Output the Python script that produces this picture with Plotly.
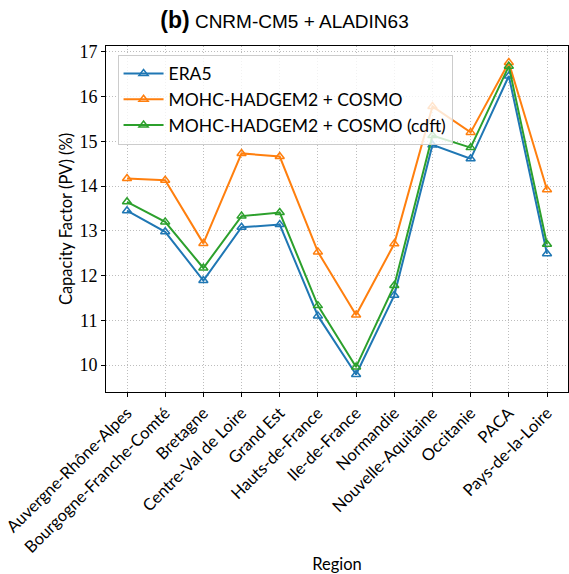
import plotly.graph_objects as go

regions = ["Auvergne-Rhône-Alpes", "Bourgogne-Franche-Comté", "Bretagne",
           "Centre-Val de Loire", "Grand Est", "Hauts-de-France", "Ile-de-France",
           "Normandie", "Nouvelle-Aquitaine", "Occitanie", "PACA", "Pays-de-la-Loire"]

era5 = [13.45, 12.98, 11.89, 13.08, 13.14, 11.10, 9.79, 11.56, 14.92, 14.61, 16.46, 12.49]
hadgem_cosmo = [14.17, 14.13, 12.72, 14.73, 14.66, 12.53, 11.12, 12.71, 15.78, 15.20, 16.76, 13.92]
hadgem_cosmo_cdft = [13.65, 13.20, 12.17, 13.33, 13.41, 11.33, 9.96, 11.78, 15.13, 14.86, 16.68, 12.70]

series = [
    ("ERA5", era5, "#1f77b4"),
    ("MOHC-HADGEM2 + COSMO", hadgem_cosmo, "#ff7f0e"),
    ("MOHC-HADGEM2 + COSMO (cdft)", hadgem_cosmo_cdft, "#2ca02c"),
]

x_idx = list(range(len(regions)))

fig = go.Figure()
for name, vals, color in series:
    fig.add_trace(go.Scatter(
        x=x_idx, y=vals, name=name, mode="lines+markers",
        line=dict(color=color, width=2),
        marker=dict(symbol="triangle-up-open", size=8, color=color,
                    line=dict(color=color, width=1.5)),
    ))

sans = "Lato, DejaVu Sans, sans-serif"
serif = "Liberation Serif, DejaVu Serif, serif"
grid_style = dict(showgrid=True, gridcolor="#bdbdbd", gridwidth=1, griddash="1px,2px")

fig.update_layout(
    width=569, height=574,
    margin=dict(l=106, r=1, t=46, b=182),
    paper_bgcolor="white", plot_bgcolor="white",
    title=dict(
        text="<b><span style='font-size:23px'>(b)</span></b> CNRM-CM5 + ALADIN63",
        x=0.5, xanchor="center", y=0.963, yanchor="middle",
        font=dict(family="Liberation Sans, Arial, sans-serif", size=19, color="black"),
    ),
    showlegend=True,
    legend=dict(
        x=0.025, y=0.975, xanchor="left", yanchor="top",
        bgcolor="rgba(255,255,255,0.8)", bordercolor="#cccccc", borderwidth=1,
        font=dict(family=sans, size=17.5, color="black"),
        tracegroupgap=0, itemwidth=40,
    ),
    font=dict(family=sans, color="black"),
)

fig.update_xaxes(
    range=[-0.55, 11.55], automargin=False,
    tickmode="array", tickvals=x_idx, ticktext=regions,
    tickangle=-45, tickfont=dict(family=sans, size=16.5, color="black"),
    ticks="outside", ticklen=4, tickwidth=1, tickcolor="black",
    showline=True, linecolor="black", linewidth=1, mirror=True,
    zeroline=False, **grid_style,
    title=dict(text="Region", font=dict(family=sans, size=16.5, color="black"), standoff=12),
)

fig.update_yaxes(
    range=[9.40, 17.13], automargin=False,
    tickmode="array", tickvals=[10, 11, 12, 13, 14, 15, 16, 17],
    tickfont=dict(family=serif, size=18, color="black"),
    ticks="outside", ticklen=4, tickwidth=1, tickcolor="black",
    showline=True, linecolor="black", linewidth=1, mirror=True,
    zeroline=False, **grid_style,
    title=dict(text="Capacity Factor (PV) (%)", font=dict(family=sans, size=16.5, color="black"), standoff=2),
)

fig.write_html("out.html")
